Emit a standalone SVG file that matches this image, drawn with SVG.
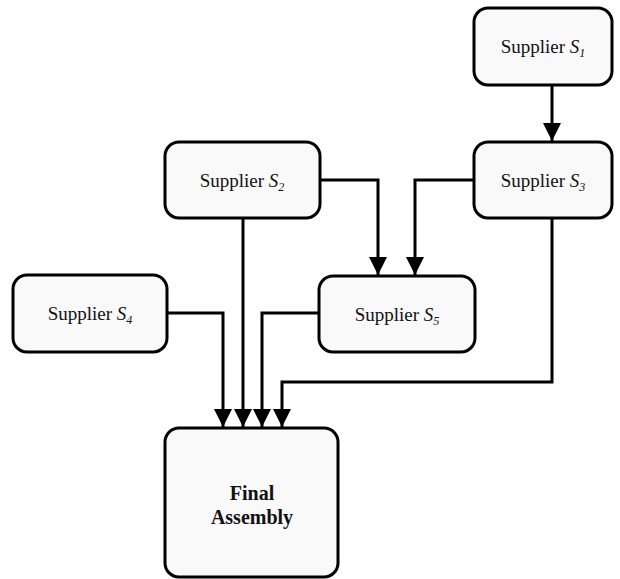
<svg xmlns="http://www.w3.org/2000/svg" width="620" height="579" viewBox="0 0 620 579">
  <style>
    .box { fill: #f9f9f9; stroke: #000; stroke-width: 3; }
    .lbl { font-family: "Liberation Serif", "DejaVu Serif", serif; font-size: 19px; fill: #111; text-anchor: middle; }
    .lbl .v { font-style: italic; }
    .lbl .sub { font-size: 12px; font-style: italic; }
    .bold { font-weight: bold; font-size: 20px; }
    .edge { fill: none; stroke: #000; stroke-width: 3; marker-end: url(#arrow); }
  </style>
  <defs>
    <marker id="arrow" viewBox="0 0 10 10" refX="10" refY="5" markerWidth="6" markerHeight="6.5" markerUnits="strokeWidth" orient="auto">
      <path d="M0,0 L10,5 L0,10 Z" fill="#000"/>
    </marker>
  </defs>

  <g id="connectors">
    <path class="edge" d="M552,85 V141"/>
    <path class="edge" d="M320,180 H378 V275"/>
    <path class="edge" d="M474,180 H415 V275"/>
    <path class="edge" d="M167,313 H223 V427"/>
    <path class="edge" d="M243,218 V427"/>
    <path class="edge" d="M319,313 H262 V427"/>
    <path class="edge" d="M552,218 V382 H282 V427"/>
  </g>

  <g id="s1">
    <rect class="box" x="474" y="8" width="138" height="77" rx="14"/>
    <text class="lbl" x="543" y="53">Supplier <tspan class="v">S</tspan><tspan class="sub" dy="4">1</tspan></text>
  </g>
  <g id="s3">
    <rect class="box" x="474" y="142" width="138" height="76" rx="14"/>
    <text class="lbl" x="543" y="187">Supplier <tspan class="v">S</tspan><tspan class="sub" dy="4">3</tspan></text>
  </g>
  <g id="s2">
    <rect class="box" x="165" y="142" width="155" height="76" rx="14"/>
    <text class="lbl" x="242" y="187">Supplier <tspan class="v">S</tspan><tspan class="sub" dy="4">2</tspan></text>
  </g>
  <g id="s4">
    <rect class="box" x="13" y="275" width="154" height="77" rx="14"/>
    <text class="lbl" x="90" y="320">Supplier <tspan class="v">S</tspan><tspan class="sub" dy="4">4</tspan></text>
  </g>
  <g id="s5">
    <rect class="box" x="319" y="276" width="156" height="76" rx="14"/>
    <text class="lbl" x="397" y="321">Supplier <tspan class="v">S</tspan><tspan class="sub" dy="4">5</tspan></text>
  </g>
  <g id="final">
    <rect class="box" x="165" y="428" width="173" height="149" rx="14"/>
    <text class="lbl bold" x="252" y="500">Final</text>
    <text class="lbl bold" x="252" y="524">Assembly</text>
  </g>
</svg>
